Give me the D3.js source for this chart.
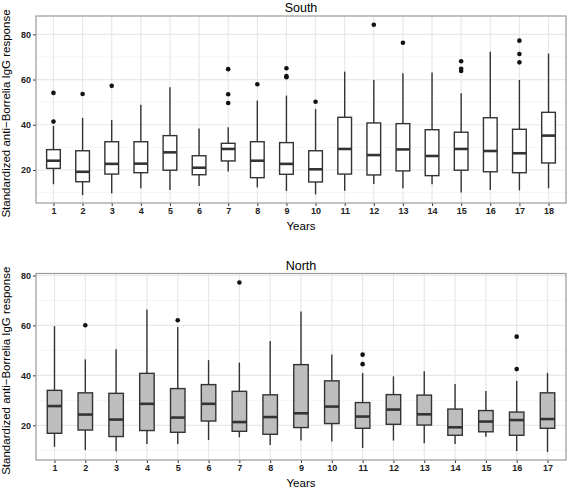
<!DOCTYPE html>
<html><head><meta charset="utf-8">
<script src="https://cdn.jsdelivr.net/npm/d3@7"></script>
<style>body{margin:0;background:#fff}svg{display:block}text{font-family:"Liberation Sans",Arial,sans-serif}</style>
</head><body><svg id="c" width="567" height="488"></svg>
<script>
// South panel (years 1..18): [lowerWhisker, q1, median, q3, upperWhisker]
const southYears = d3.range(1, 19).map(String);
const southStats = [
  [13.7, 20.7, 24.1, 29.0, 39.5],
  [8.9, 14.8, 19.2, 28.5, 43.0],
  [9.7, 18.2, 22.7, 32.5, 42.1],
  [11.9, 18.8, 22.8, 32.5, 48.8],
  [11.2, 19.9, 27.8, 35.2, 56.6],
  [12.9, 17.9, 21.0, 26.3, 38.4],
  [19.3, 24.0, 29.3, 31.8, 38.9],
  [12.3, 16.6, 24.1, 32.5, 50.7],
  [10.7, 18.1, 22.7, 32.1, 52.9],
  [9.2, 14.7, 20.3, 28.5, 47.0],
  [10.8, 18.2, 29.3, 43.3, 63.5],
  [13.8, 17.8, 26.6, 40.8, 59.8],
  [11.9, 19.6, 29.1, 40.5, 62.8],
  [13.7, 17.5, 26.2, 37.8, 63.1],
  [10.0, 19.9, 29.3, 36.7, 53.9],
  [11.2, 19.2, 28.4, 43.1, 72.3],
  [11.0, 18.8, 27.4, 38.0, 59.8],
  [11.9, 23.1, 35.2, 45.5, 71.5]
];
const southOutliers = [
  [41.4, 54.1], [53.6], [57.2], [], [], [], [49.6, 53.5, 64.6], [57.9], [61.0, 61.5, 65.0],
  [50.2], [], [84.2], [76.3], [], [63.8, 64.8, 68.1], [], [67.6, 71.3, 77.2], []
];
// North panel (years 1..17)
const northYears = d3.range(1, 18).map(String);
const northStats = [
  [11.4, 16.8, 27.7, 34.0, 59.7],
  [10.1, 18.1, 24.3, 33.0, 46.4],
  [9.6, 15.5, 22.3, 32.8, 50.5],
  [12.5, 17.9, 28.6, 40.8, 66.4],
  [12.5, 17.2, 23.1, 34.7, 59.4],
  [14.1, 21.7, 28.6, 36.3, 46.1],
  [15.2, 17.6, 21.3, 33.6, 45.1],
  [12.1, 16.4, 23.3, 32.2, 53.8],
  [13.9, 19.1, 24.8, 44.3, 65.6],
  [13.5, 20.7, 27.5, 37.8, 48.4],
  [10.9, 18.8, 23.5, 29.1, 40.9],
  [13.9, 20.4, 26.3, 32.3, 39.6],
  [12.8, 20.1, 24.4, 32.1, 41.6],
  [12.5, 16.0, 19.2, 26.5, 36.5],
  [15.4, 17.4, 21.5, 25.9, 33.7],
  [9.7, 16.0, 22.1, 25.3, 37.8],
  [9.3, 18.8, 22.5, 33.0, 41.0]
];
const northOutliers = [
  [], [60.1], [], [], [62.1], [], [77.2], [], [], [], [44.5, 48.3], [], [], [], [], [42.5, 55.5], []
];
const yTicks = [20, 40, 60, 80];
const yMinor = [10, 30, 50, 70];

const svg = d3.select("#c");

function panel(cfg) {
  const {years, stats, outliers, top, bottom, domain, title, fill} = cfg;
  const left = 36, right = 566;
  const x = d3.scaleBand().domain(years).range([left, right]).paddingOuter(0.1).paddingInner(0);
  // ggplot-like discrete expansion: 0.6 units on each side
  const n = years.length;
  const step = (right - left) / (n - 1 + 1.2);
  const xc = d => left + (0.6 + years.indexOf(d)) * step;
  const y = d3.scaleLinear().domain(domain).range([bottom, top]);
  const g = svg.append("g");
  // grid
  g.selectAll(".minor").data(yMinor).join("line")
    .attr("x1", left).attr("x2", right).attr("y1", d => y(d)).attr("y2", d => y(d))
    .attr("stroke", "#f5f5f5").attr("stroke-width", 1);
  g.selectAll(".major").data(yTicks).join("line")
    .attr("x1", left).attr("x2", right).attr("y1", d => y(d)).attr("y2", d => y(d))
    .attr("stroke", "#e8e8e8").attr("stroke-width", 1.2);
  g.selectAll(".vg").data(years).join("line")
    .attr("x1", d => xc(d)).attr("x2", d => xc(d)).attr("y1", top).attr("y2", bottom)
    .attr("stroke", "#e8e8e8").attr("stroke-width", 1.2);
  // axes
  const ya = d3.axisLeft(y).tickValues(yTicks).tickSize(3).tickPadding(2);
  const yg = g.append("g").attr("transform", `translate(${left},0)`).call(ya);
  yg.select(".domain").remove();
  yg.selectAll("line").attr("stroke", "#333");
  yg.selectAll("text").attr("font-size", 9).attr("fill", "#222").attr("font-weight", "bold");
  const xs = d3.scalePoint().domain(years).range([xc(years[0]), xc(years[n - 1])]);
  const xa = d3.axisBottom(xs).tickSize(3).tickPadding(2);
  const xg = g.append("g").attr("transform", `translate(0,${bottom})`).call(xa);
  xg.select(".domain").remove();
  xg.selectAll("line").attr("stroke", "#333");
  xg.selectAll("text").attr("font-size", 9).attr("fill", "#222").attr("font-weight", "bold");
  // boxes
  const bw = step * 0.47;
  const bg = g.selectAll(".box").data(years).join("g");
  bg.append("line").attr("x1", d => xc(d)).attr("x2", d => xc(d))
    .attr("y1", (d, i) => y(stats[i][0])).attr("y2", (d, i) => y(stats[i][1]))
    .attr("stroke", "#333").attr("stroke-width", 1.4);
  bg.append("line").attr("x1", d => xc(d)).attr("x2", d => xc(d))
    .attr("y1", (d, i) => y(stats[i][3])).attr("y2", (d, i) => y(stats[i][4]))
    .attr("stroke", "#333").attr("stroke-width", 1.4);
  bg.append("rect").attr("x", d => xc(d) - bw / 2).attr("width", bw)
    .attr("y", (d, i) => y(stats[i][3])).attr("height", (d, i) => y(stats[i][1]) - y(stats[i][3]))
    .attr("fill", fill).attr("stroke", "#333").attr("stroke-width", 1.4);
  bg.append("line").attr("x1", d => xc(d) - bw / 2).attr("x2", d => xc(d) + bw / 2)
    .attr("y1", (d, i) => y(stats[i][2])).attr("y2", (d, i) => y(stats[i][2]))
    .attr("stroke", "#333").attr("stroke-width", 2.6);
  bg.each(function (d, i) {
    d3.select(this).selectAll("circle").data(outliers[i]).join("circle")
      .attr("cx", xc(d)).attr("cy", v => y(v)).attr("r", 2.3).attr("fill", "#111");
  });
  // border
  g.append("rect").attr("x", left).attr("y", top).attr("width", right - left).attr("height", bottom - top)
    .attr("fill", "none").attr("stroke", "#9a9a9a").attr("stroke-width", 1.2);
  // titles
  g.append("text").attr("x", (left + right) / 2).attr("y", top - 4).attr("text-anchor", "middle")
    .attr("font-size", 12.5).attr("fill", "#000").text(title);
  g.append("text").attr("x", (left + right) / 2).attr("y", bottom + 27).attr("text-anchor", "middle")
    .attr("font-size", 11.5).attr("fill", "#000").text("Years");
  g.append("text").attr("transform", `translate(10,${(top + bottom) / 2 + 4}) rotate(-90)`)
    .attr("text-anchor", "middle").attr("font-size", 11.5).attr("fill", "#000")
    .text("Standardized anti\u2212Borrelia IgG response");
}

panel({years: southYears, stats: southStats, outliers: southOutliers, top: 16, bottom: 203,
  domain: [5.4, 88.1], title: "South", fill: "#ffffff"});
panel({years: northYears, stats: northStats, outliers: northOutliers, top: 273.5, bottom: 460,
  domain: [6.1, 80.8], title: "North", fill: "#bebebe"});
</script></body></html>
